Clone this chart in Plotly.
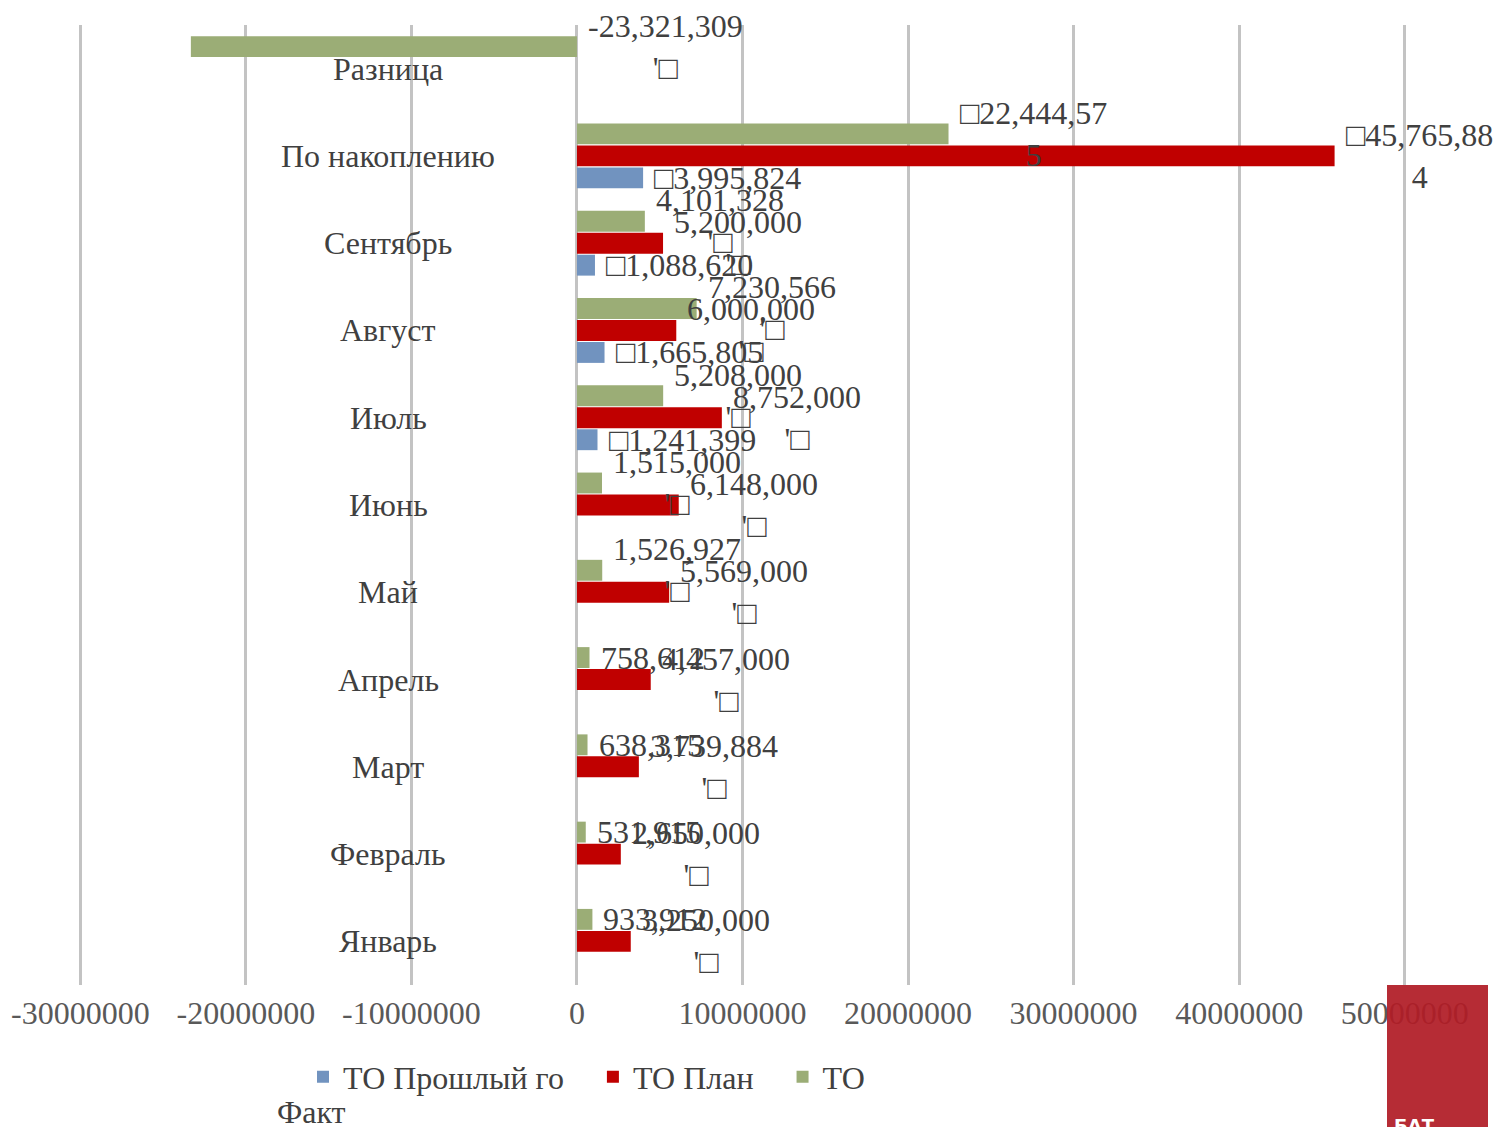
import plotly.graph_objects as go

# ---------------- data ----------------
categories = ["Январь", "Февраль", "Март", "Апрель", "Май", "Июнь",
              "Июль", "Август", "Сентябрь", "По накоплению", "Разница"]
prev_year = [None, None, None, None, None, None,
             1241399, 1665805, 1088620, 3995824, None]
plan = [3250000, 2650000, 3739884, 4457000, 5569000, 6148000,
        8752000, 6000000, 5200000, 45765884, None]
fact = [933912, 531915, 638315, 758612, 1526927, 1515000,
        5208000, 7230566, 4101328, 22444575, -23321309]
x_ticks = [-30000000, -20000000, -10000000, 0, 10000000,
           20000000, 30000000, 40000000, 50000000]
series_names = ["ТО Прошлый го", "ТО План", "ТО"]
legend_tail = "Факт"
logo_text = "БАТ"

# ---------------- style ----------------
COL_BLUE = "#7193bf"
COL_RED = "#c00000"
COL_GREEN = "#9bad76"
GRID = "#c3c3c3"
SERIF = "Liberation Serif, Times New Roman, serif"
LABEL_COL = "#404040"
FS = 32
SLOT = 22  # px between bars inside a group
PAD = "\u00a0\u00a0\u00a0"

ML, MR, MT, MB = 77, 91, 25, 142
W, H = 1499, 1127
pw = W - ML - MR
ph = H - MT - MB

fig = go.Figure()
for i, (name, vals, col) in enumerate([(series_names[0], prev_year, COL_BLUE),
                                       (series_names[1], plan, COL_RED),
                                       (series_names[2], fact, COL_GREEN)]):
    fig.add_trace(go.Bar(y=categories, x=vals, orientation="h",
                         name=name + (PAD if i < 2 else ""),
                         marker=dict(color=col, line=dict(width=0))))


def fmt(v):
    return f"{v:,}"


def wrap_last(s):
    return s[:-1] + "<br>" + s[-1]


annotations = []
cum = "По накоплению"
for vals, slot, kind in [(prev_year, -1, "blue"), (plan, 0, "red"), (fact, 1, "green")]:
    for cat, v in zip(categories, vals):
        if v is None:
            continue
        if kind == "blue":
            txt = "□" + fmt(v)
        elif cat == cum:
            txt = wrap_last("□" + fmt(v))
        elif kind == "green" and 0 <= v < 1000000:
            txt = fmt(v)
        else:
            txt = fmt(v) + "<br>'□"
        annotations.append(dict(
            x=max(v, 0), y=cat, xref="x", yref="y", text=txt, showarrow=False,
            xanchor="left", yanchor="middle", xshift=9, yshift=slot * SLOT,
            align="center", font=dict(family=SERIF, size=FS, color=LABEL_COL)))

# category labels placed inside the plot, centred
for cat in categories:
    annotations.append(dict(
        x=-11.4e6, y=cat, xref="x", yref="y", text=cat, showarrow=False,
        xanchor="center", yanchor="middle",
        font=dict(family=SERIF, size=FS, color=LABEL_COL)))

# wrapped legend tail
annotations.append(dict(
    x=(311 - ML) / pw, y=(H - MB - 1112) / ph, xref="paper", yref="paper",
    text=legend_tail, showarrow=False, xanchor="center", yanchor="middle",
    font=dict(family=SERIF, size=FS, color=LABEL_COL)))

fig.update_layout(
    width=W, height=H,
    margin=dict(l=ML, r=MR, t=MT, b=MB),
    paper_bgcolor="white", plot_bgcolor="white",
    barmode="group", bargap=0.244, bargroupgap=0.05,
    showlegend=True,
    legend=dict(orientation="h", x=(303 - ML) / pw, xanchor="left",
                y=(H - MB - 1077) / ph, yanchor="middle",
                font=dict(family=SERIF, size=FS, color=LABEL_COL),
                bgcolor="rgba(0,0,0,0)"),
    xaxis=dict(range=[-30200000, 50200000], tickvals=x_ticks,
               ticktext=[str(t) for t in x_ticks],
               showgrid=True, gridcolor=GRID, gridwidth=3,
               zeroline=True, zerolinecolor=GRID, zerolinewidth=3,
               showline=False, ticks="", ticklabelstandoff=6,
               tickfont=dict(family=SERIF, size=FS, color="#595959")),
    yaxis=dict(categoryorder="array", categoryarray=categories,
               range=[-0.5, 10.5], showticklabels=False, showgrid=False,
               zeroline=False, showline=False, ticks=""),
    annotations=annotations,
    font=dict(family=SERIF),
)

# red logo block at the bottom right
fig.add_shape(type="rect", xref="paper", yref="paper",
              x0=(1387 - ML) / pw, x1=(1488 - ML) / pw,
              y0=0, y1=-(H - (H - MB) + 20) / ph,
              fillcolor="#b01c26", line=dict(width=0), layer="above", opacity=0.93)
fig.add_annotation(x=(1414 - ML) / pw, y=-(1113 - (H - MB)) / ph, xref="paper", yref="paper",
                   text="<b>" + logo_text + "</b>", showarrow=False,
                   xanchor="center", yanchor="top",
                   font=dict(family="DejaVu Sans", size=18, color="white"))

fig.write_html("out.html")
